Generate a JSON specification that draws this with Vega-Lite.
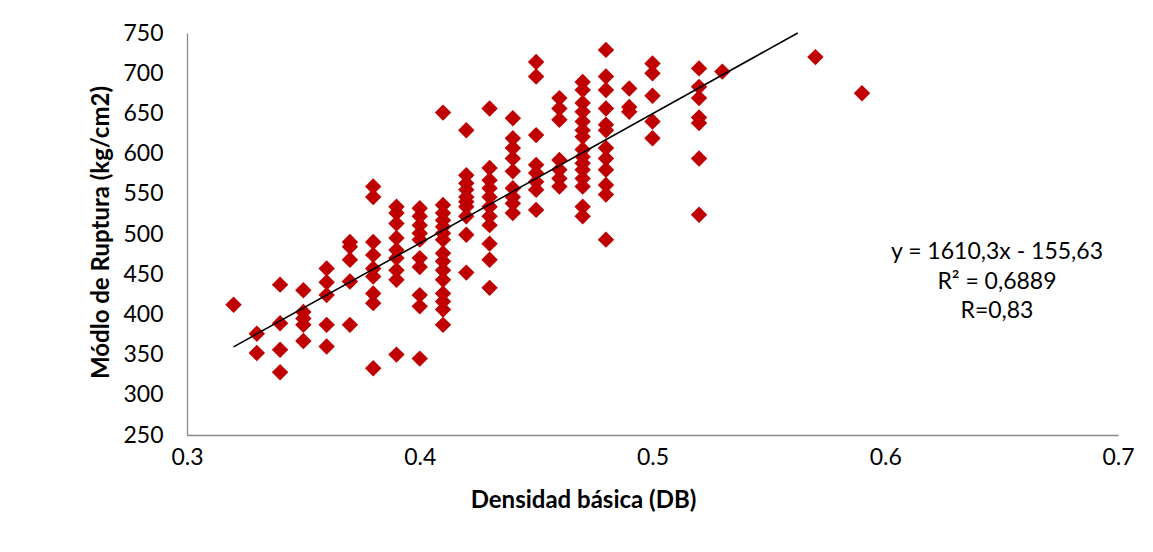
{
  "$schema": "https://vega.github.io/schema/vega-lite/v6.json",
  "width": 931,
  "height": 402,
  "autosize": {"type": "none"},
  "padding": {"left": 187, "top": 33, "right": 35, "bottom": 117},
  "background": "white",
  "config": {
    "view": {"stroke": null},
    "font": "Lato"
  },
  "datasets": {
    "pts": [
      {"db": 0.32, "mr": 412},
      {"db": 0.33, "mr": 376}, {"db": 0.33, "mr": 352},
      {"db": 0.34, "mr": 437}, {"db": 0.34, "mr": 389}, {"db": 0.34, "mr": 356}, {"db": 0.34, "mr": 328},
      {"db": 0.35, "mr": 430}, {"db": 0.35, "mr": 403}, {"db": 0.35, "mr": 395}, {"db": 0.35, "mr": 387}, {"db": 0.35, "mr": 367},
      {"db": 0.36, "mr": 457}, {"db": 0.36, "mr": 440}, {"db": 0.36, "mr": 424}, {"db": 0.36, "mr": 387}, {"db": 0.36, "mr": 360},
      {"db": 0.37, "mr": 490}, {"db": 0.37, "mr": 484}, {"db": 0.37, "mr": 468}, {"db": 0.37, "mr": 441}, {"db": 0.37, "mr": 387},
      {"db": 0.38, "mr": 559}, {"db": 0.38, "mr": 546}, {"db": 0.38, "mr": 490}, {"db": 0.38, "mr": 474}, {"db": 0.38, "mr": 457}, {"db": 0.38, "mr": 447}, {"db": 0.38, "mr": 426}, {"db": 0.38, "mr": 414}, {"db": 0.38, "mr": 333},
      {"db": 0.39, "mr": 534}, {"db": 0.39, "mr": 526}, {"db": 0.39, "mr": 513}, {"db": 0.39, "mr": 495}, {"db": 0.39, "mr": 480}, {"db": 0.39, "mr": 470}, {"db": 0.39, "mr": 455}, {"db": 0.39, "mr": 443}, {"db": 0.39, "mr": 350},
      {"db": 0.4, "mr": 532}, {"db": 0.4, "mr": 522}, {"db": 0.4, "mr": 511}, {"db": 0.4, "mr": 501}, {"db": 0.4, "mr": 493}, {"db": 0.4, "mr": 470}, {"db": 0.4, "mr": 459}, {"db": 0.4, "mr": 424}, {"db": 0.4, "mr": 410}, {"db": 0.4, "mr": 345},
      {"db": 0.41, "mr": 651}, {"db": 0.41, "mr": 536}, {"db": 0.41, "mr": 526}, {"db": 0.41, "mr": 517}, {"db": 0.41, "mr": 509}, {"db": 0.41, "mr": 501}, {"db": 0.41, "mr": 493}, {"db": 0.41, "mr": 476}, {"db": 0.41, "mr": 466}, {"db": 0.41, "mr": 455}, {"db": 0.41, "mr": 443}, {"db": 0.41, "mr": 426}, {"db": 0.41, "mr": 416}, {"db": 0.41, "mr": 406}, {"db": 0.41, "mr": 387},
      {"db": 0.42, "mr": 629}, {"db": 0.42, "mr": 573}, {"db": 0.42, "mr": 563}, {"db": 0.42, "mr": 555}, {"db": 0.42, "mr": 546}, {"db": 0.42, "mr": 540}, {"db": 0.42, "mr": 534}, {"db": 0.42, "mr": 522}, {"db": 0.42, "mr": 499}, {"db": 0.42, "mr": 452},
      {"db": 0.43, "mr": 656}, {"db": 0.43, "mr": 582}, {"db": 0.43, "mr": 567}, {"db": 0.43, "mr": 557}, {"db": 0.43, "mr": 546}, {"db": 0.43, "mr": 534}, {"db": 0.43, "mr": 522}, {"db": 0.43, "mr": 511}, {"db": 0.43, "mr": 488}, {"db": 0.43, "mr": 468}, {"db": 0.43, "mr": 433},
      {"db": 0.44, "mr": 644}, {"db": 0.44, "mr": 619}, {"db": 0.44, "mr": 607}, {"db": 0.44, "mr": 594}, {"db": 0.44, "mr": 578}, {"db": 0.44, "mr": 557}, {"db": 0.44, "mr": 546}, {"db": 0.44, "mr": 538}, {"db": 0.44, "mr": 526},
      {"db": 0.45, "mr": 714}, {"db": 0.45, "mr": 696}, {"db": 0.45, "mr": 623}, {"db": 0.45, "mr": 586}, {"db": 0.45, "mr": 576}, {"db": 0.45, "mr": 565}, {"db": 0.45, "mr": 555}, {"db": 0.45, "mr": 530},
      {"db": 0.46, "mr": 669}, {"db": 0.46, "mr": 656}, {"db": 0.46, "mr": 642}, {"db": 0.46, "mr": 592}, {"db": 0.46, "mr": 580}, {"db": 0.46, "mr": 569}, {"db": 0.46, "mr": 559},
      {"db": 0.47, "mr": 689}, {"db": 0.47, "mr": 679}, {"db": 0.47, "mr": 663}, {"db": 0.47, "mr": 652}, {"db": 0.47, "mr": 640}, {"db": 0.47, "mr": 629}, {"db": 0.47, "mr": 621}, {"db": 0.47, "mr": 605}, {"db": 0.47, "mr": 596}, {"db": 0.47, "mr": 588}, {"db": 0.47, "mr": 580}, {"db": 0.47, "mr": 569}, {"db": 0.47, "mr": 559}, {"db": 0.47, "mr": 534}, {"db": 0.47, "mr": 522},
      {"db": 0.48, "mr": 729}, {"db": 0.48, "mr": 696}, {"db": 0.48, "mr": 679}, {"db": 0.48, "mr": 656}, {"db": 0.48, "mr": 636}, {"db": 0.48, "mr": 629}, {"db": 0.48, "mr": 607}, {"db": 0.48, "mr": 594}, {"db": 0.48, "mr": 580}, {"db": 0.48, "mr": 561}, {"db": 0.48, "mr": 549}, {"db": 0.48, "mr": 493},
      {"db": 0.49, "mr": 681}, {"db": 0.49, "mr": 658}, {"db": 0.49, "mr": 652},
      {"db": 0.5, "mr": 712}, {"db": 0.5, "mr": 700}, {"db": 0.5, "mr": 672}, {"db": 0.5, "mr": 640}, {"db": 0.5, "mr": 619},
      {"db": 0.52, "mr": 706}, {"db": 0.52, "mr": 683}, {"db": 0.52, "mr": 669}, {"db": 0.52, "mr": 645}, {"db": 0.52, "mr": 638}, {"db": 0.52, "mr": 594}, {"db": 0.52, "mr": 524},
      {"db": 0.53, "mr": 702},
      {"db": 0.57, "mr": 720},
      {"db": 0.59, "mr": 675}
    ],
    "trend": [
      {"db": 0.32, "mr": 359.67},
      {"db": 0.5624, "mr": 750}
    ],
    "labels": [
      {"db": 0.648, "mr": 477.6, "t": "y = 1610,3x - 155,63"},
      {"db": 0.648, "mr": 440.3, "t": "R² = 0,6889"},
      {"db": 0.648, "mr": 404.2, "t": "R=0,83"}
    ]
  },
  "layer": [
    {
      "data": {"name": "pts"},
      "mark": {"type": "point", "shape": "diamond", "filled": true, "color": "#C00000", "opacity": 1, "size": 270},
      "encoding": {
        "x": {
          "field": "db", "type": "quantitative",
          "scale": {"domain": [0.3, 0.7], "nice": false, "zero": false},
          "axis": {
            "values": [0.3, 0.4, 0.5, 0.6, 0.7], "format": ".1f",
            "grid": false, "ticks": false, "domainColor": "#898989", "domainWidth": 1.3,
            "labelFlush": false,
            "labelFont": "Lato", "labelFontSize": 23, "labelColor": "#000000", "labelPadding": 11,
            "title": "Densidad básica (DB)", "titleFont": "Lato", "titleFontSize": 24, "titleFontWeight": "bold", "titleColor": "#000000",
            "titleX": 396, "titleY": 65, "titleBaseline": "middle", "titleAlign": "center"
          }
        },
        "y": {
          "field": "mr", "type": "quantitative",
          "scale": {"domain": [250, 750], "nice": false, "zero": false},
          "axis": {
            "values": [250, 300, 350, 400, 450, 500, 550, 600, 650, 700, 750],
            "grid": false, "ticks": false, "domainColor": "#898989", "domainWidth": 1.3,
            "labelFlush": false,
            "labelFont": "Lato", "labelFontSize": 23, "labelColor": "#000000", "labelPadding": 24,
            "title": "Módlo de Ruptura (kg/cm2)", "titleFont": "Lato", "titleFontSize": 24, "titleFontWeight": "bold", "titleColor": "#000000",
            "titleX": -86, "titleY": 199, "titleBaseline": "middle", "titleAlign": "center", "titleAngle": -90
          }
        }
      }
    },
    {
      "data": {"name": "trend"},
      "mark": {"type": "line", "color": "#000000", "strokeWidth": 1.6},
      "encoding": {
        "x": {"field": "db", "type": "quantitative"},
        "y": {"field": "mr", "type": "quantitative"}
      }
    },
    {
      "data": {"name": "labels"},
      "mark": {"type": "text", "font": "Lato", "fontSize": 23, "color": "#000000", "align": "center", "baseline": "middle"},
      "encoding": {
        "x": {"field": "db", "type": "quantitative"},
        "y": {"field": "mr", "type": "quantitative"},
        "text": {"field": "t"}
      }
    }
  ]
}
